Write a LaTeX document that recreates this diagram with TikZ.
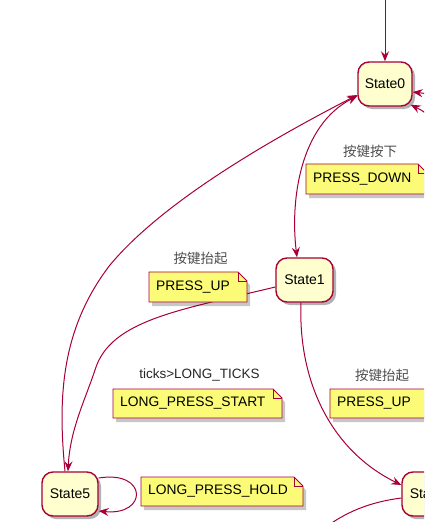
\documentclass[tikz,border=0pt]{standalone}
\usepackage{fontspec}
\setmainfont{Liberation Sans}
\newfontfamily\cjk{Noto Sans CJK SC}
\usetikzlibrary{arrows.meta,shadows}
\definecolor{pline}{HTML}{A80036}
\definecolor{sfill}{HTML}{FEFECE}
\definecolor{nfill}{HTML}{FBFB77}
\newcommand\pnote[6]{%
  \fill[black,opacity=0.22] (#2+3,#3+4) -- (#4+3-9,#3+4) -- (#4+3,#3+4+9) -- (#4+3,#5+4) -- (#2+3,#5+4) -- cycle;
  \filldraw[fill=nfill,draw=pline,line width=0.9pt] (#2,#3) -- (#4-9,#3) -- (#4,#3+9) -- (#4,#5) -- (#2,#5) -- cycle;
  \draw[pline,line width=0.9pt] (#4-9,#3) -- (#4-9,#3+9) -- (#4,#3+9);
  \node[notetext,anchor=west] (#1) at (#2+7,{(#3+#5)/2}) {#6};
}
\begin{document}
\begin{tikzpicture}[x=1pt,y=-1pt,
  st/.style={draw=pline,line width=1.4pt,fill=sfill,rounded corners=11pt,
    minimum width=54pt,minimum height=44pt,inner sep=0pt,
    font=\fontsize{14}{16}\selectfont,
    drop shadow={shadow xshift=3pt,shadow yshift=-3pt,opacity=0.3,fill=black}},
  tr/.style={draw=pline,line width=1pt},
  tip/.style={-{Stealth[length=10pt,width=8pt,inset=3.5pt]}},
  notetext/.style={inner sep=0pt,font=\fontsize{13.8}{16}\selectfont,text=black},
  cjklabel/.style={inner sep=0pt,font=\cjk\fontsize{13.5}{15}\selectfont,text=black!70},
  latlabel/.style={inner sep=0pt,font=\fontsize{13.5}{15}\selectfont,text=black!85}
]
\useasboundingbox (0,0) rectangle (424,522);
\clip (0,0) rectangle (424,522);

% states
\node[st] (s0) at (385,84) {State0};
\node[st,minimum width=57pt] (s1) at (304.5,280) {State1};
\node[st,minimum width=56pt] (s5) at (70,494) {State5};
\node[st,minimum width=56pt] (s2) at (430,494) {State2};

% free ends
\coordinate (t) at (385,-15);
\coordinate (r1) at (445,97);
\coordinate (r2) at (440,126);
\coordinate (e) at (322,530);

% connectors
\draw[tr,tip] (t) -- (s0.north);
\draw[tr,tip] (r1) .. controls (430,94) .. ([yshift=-8pt]s0.east);
\draw[tr,tip] (r2) .. controls (425,112) .. ([xshift=-2pt,yshift=2pt]s0.south east);
\draw[tr,{Stealth[length=10pt,width=8pt,inset=3.5pt]}-{Stealth[length=10pt,width=8pt,inset=3.5pt]}]
  ([yshift=-12pt]s0.west) .. controls (300,125) and (290,200) .. ([xshift=-7.5pt]s1.north);
\draw[tr,tip] ([xshift=-5pt]s5.north) .. controls (58,400) and (60,330) .. (110,265)
  .. controls (160,205) and (260,145) .. ([yshift=-11pt]s0.west);
\draw[tr,tip] ([yshift=-7pt]s1.west) .. controls (180,310) and (110,320) .. (95,370)
  .. controls (85,400) and (70,430) .. ([xshift=-2pt]s5.north);
\draw[tr,tip] ([xshift=-3.5pt]s1.south) .. controls (298,380) and (330,450) .. ([yshift=9pt]s2.west);
\draw[tr] ([yshift=-4pt]s2.west) .. controls (370,502) and (345,512) .. (e);
\draw[tr,tip] ([yshift=16pt]s5.east) .. controls (148,470) and (148,516) .. ([yshift=-17pt]s5.east);

% labels
\node[cjklabel] (l1) at (370,151) {按键按下};
\node[cjklabel] (l2) at (200.5,258) {按键抬起};
\node[latlabel] (l3) at (199.5,375) {ticks>LONG\_TICKS};
\node[cjklabel] (l4) at (382,375) {按键抬起};

% notes
\pnote{n1}{306}{164}{427}{194}{PRESS\_DOWN}
\pnote{n2}{149}{272}{247}{302}{PRESS\_UP}
\pnote{n3}{113}{389}{282}{418}{LONG\_PRESS\_START}
\pnote{n4}{330}{389}{440}{418}{PRESS\_UP}
\pnote{n5}{141}{477}{303}{506}{LONG\_PRESS\_HOLD}
\end{tikzpicture}
\end{document}
